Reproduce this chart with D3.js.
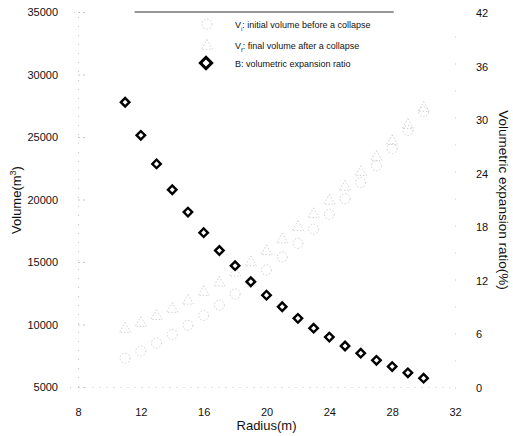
<!DOCTYPE html>
<html><head><meta charset="utf-8">
<script src="https://cdn.jsdelivr.net/npm/d3@7"></script>
<style>body{margin:0;background:#fff}svg{display:block}text{font-family:"Liberation Sans",Arial,sans-serif}</style>
</head><body><svg id="c" width="513" height="436"></svg>
<script>
const radius = [11,12,13,14,15,16,17,18,19,20,21,22,23,24,25,26,27,28,29,30];
const initialVolume = [7300,7880,8520,9200,9930,10720,11550,12440,13370,14360,15400,16490,17630,18820,20060,21350,22690,24080,25520,27010];
const finalVolume = [9640,10110,10660,11240,11890,12590,13330,14140,14960,15850,16800,17780,18810,19890,21000,22180,23390,24660,25950,27310];
const expansionRatio = [32,28.3,25.1,22.2,19.7,17.4,15.4,13.7,11.9,10.4,9.1,7.8,6.7,5.7,4.7,3.9,3.1,2.4,1.7,1.1];
const xTicks = [8,12,16,20,24,28,32];
const yLeftTicks = [5000,10000,15000,20000,25000,30000,35000];
const yRightTicks = [0,6,12,18,24,30,36,42];

const svg = d3.select("#c");
const x = d3.scaleLinear().domain([8,32]).range([78,455]);
const yL = d3.scaleLinear().domain([5000,35000]).range([387,12]);
const yR = d3.scaleLinear().domain([0,42]).range([388,13]);

// faint axes
const faint = "#c8c8c8";
const xAxis = svg.append("g").attr("transform","translate(0,387)")
  .call(d3.axisBottom(x).tickValues(xTicks).tickSize(0).tickPadding(21));
xAxis.select(".domain").attr("stroke",faint).attr("stroke-dasharray","1,6");
xAxis.selectAll("text").attr("font-size",11).attr("fill","#111");

const yAxisL = svg.append("g").attr("transform","translate(78,0)")
  .call(d3.axisLeft(yL).tickValues(yLeftTicks).tickSize(8).tickPadding(12).tickFormat(d3.format("d")));
yAxisL.select(".domain").attr("stroke",faint).attr("stroke-dasharray","1,8");
yAxisL.selectAll(".tick line").attr("stroke",faint).attr("stroke-dasharray","2,3").attr("x2",8);
yAxisL.selectAll("text").attr("font-size",11).attr("fill","#111");

const yAxisR = svg.append("g").attr("transform","translate(455,0)")
  .call(d3.axisRight(yR).tickValues(yRightTicks).tickSize(0).tickPadding(21));
yAxisR.select(".domain").attr("stroke",faint).attr("stroke-dasharray","1,26");
yAxisR.selectAll("text").attr("font-size",11).attr("fill","#111");

// top frame segment
svg.append("line").attr("x1",x(11.6)).attr("x2",x(28.1)).attr("y1",12).attr("y2",12)
  .attr("stroke","#333").attr("stroke-width",1.2);

// axis titles
const yt = svg.append("text").attr("transform","translate(21,200) rotate(-90)")
  .attr("text-anchor","middle").attr("font-size",13).attr("fill","#111");
yt.append("tspan").text("Volume(m");
yt.append("tspan").attr("baseline-shift","super").attr("font-size",9).text("3");
yt.append("tspan").text(")");
svg.append("text").attr("x",x(20)).attr("y",430).attr("text-anchor","middle")
  .attr("font-size",13).attr("fill","#111").text("Radius(m)");
svg.append("text").attr("transform","translate(499,200) rotate(90)")
  .attr("text-anchor","middle").attr("font-size",13.5).attr("fill","#111").text("Volumetric expansion ratio(%)");

// faint series
const tri = d3.symbol().type(d3.symbolTriangle).size(55);
svg.append("g").selectAll("circle").data(radius).join("circle")
  .attr("cx",d=>x(d)).attr("cy",(d,i)=>yL(initialVolume[i])).attr("r",5)
  .attr("fill","none").attr("stroke","#c4c4c4").attr("stroke-width",0.8).attr("stroke-dasharray","1.5,1.8");
svg.append("g").selectAll("path").data(radius).join("path")
  .attr("d",tri).attr("transform",(d,i)=>`translate(${x(d)},${yL(finalVolume[i])})`)
  .attr("fill","none").attr("stroke","#c4c4c4").attr("stroke-width",0.8).attr("stroke-dasharray","1.5,1.8");

// diamonds
const dia = d3.symbol().type(d3.symbolSquare).size(36);
svg.append("g").selectAll("path").data(radius).join("path")
  .attr("d",dia).attr("transform",(d,i)=>`translate(${x(d)},${yR(expansionRatio[i])}) rotate(45)`)
  .attr("fill","#fff").attr("stroke","#000").attr("stroke-width",2.4);

// legend
const lg = svg.append("g");
lg.append("circle").attr("cx",207).attr("cy",24).attr("r",5)
  .attr("fill","none").attr("stroke","#c4c4c4").attr("stroke-width",0.8).attr("stroke-dasharray","1.5,1.8");
lg.append("path").attr("d",tri).attr("transform","translate(207,46)")
  .attr("fill","none").attr("stroke","#c4c4c4").attr("stroke-width",0.8).attr("stroke-dasharray","1.5,1.8");
lg.append("path").attr("d",d3.symbol().type(d3.symbolSquare).size(64)).attr("transform","translate(206,63) rotate(45)")
  .attr("fill","#fff").attr("stroke","#000").attr("stroke-width",3);
const legendItems = [["V","i",": initial volume before a collapse",28],["V","f",": final volume after a collapse",49],["B","",": volumetric expansion ratio",67]];
legendItems.forEach(([a,s,b,yy])=>{
  const t = lg.append("text").attr("x",235).attr("y",yy).attr("font-size",9).attr("fill","#111");
  t.append("tspan").text(a);
  if(s){ t.append("tspan").attr("baseline-shift","sub").attr("font-size",6).text(s); }
  t.append("tspan").text(b);
});
</script></body></html>
